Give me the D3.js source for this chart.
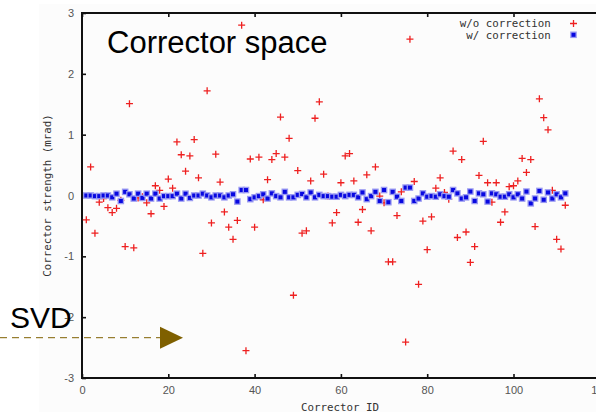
<!DOCTYPE html>
<html lang="en">
<head>
  <meta charset="utf-8">
  <title>Corrector space</title>
  <script type="text/javascript" src="https://d3js.org/d3.v7.min.js"></script>
  <style>
    body { margin: 0; background: #fff; }
    svg { display: block; }
  </style>
</head>
<body>
  <div id="my_dataviz"></div>

  <script type="text/javascript">
    // corrector strength (mrad) per corrector ID 1..112
    var withoutCorrection = [
      -0.40, 0.47, -0.62, -0.11, -0.05, -0.20, -0.28, -0.21, -0.08, -0.84,
      1.51, -0.86, -0.04, -0.02, -0.12, -0.30, 0.16, 0.085, -0.18, 0.27,
      0.12, 0.88, 0.67, 0.40, 0.65, 0.92, 0.29, -0.95, 1.72, -0.45,
      0.68, 0.22, -0.27, -0.52, -0.72, -0.41, 2.80, -2.55, 0.60, -0.52,
      0.63, -0.07, 0.26, 0.59, 0.69, 1.29, 0.63, 0.94, -1.64, 0.41,
      -0.62, -0.58, 0.24, 1.27, 1.54, 0.35, -0.01, -0.45, -0.28, 0.21,
      0.65, 0.69, 0.24, -0.44, -0.23, 0.34, -0.58, 0.47, -0.01, -0.12,
      -1.09, -1.09, -0.33, 0.06, -2.41, 2.57, 0.23, -1.46, -0.42, -0.89,
      -0.35, 0.12, 0.29, 0.05, -0.06, 0.73, -0.69, 0.59, -0.60, -1.10,
      -0.84, 0.33, 0.89, 0.21, -0.11, 0.21, -0.44, -0.27, 0.145, 0.16,
      0.24, 0.61, 0.38, 0.59, -0.51, 1.59, 1.28, 1.08, 0.085, -0.72,
      -0.88, -0.16
    ];
    var withCorrection = [
      0.0, 0.0, -0.01, -0.01, 0.0, 0.0, -0.03, 0.03, -0.09, 0.06,
      0.02, -0.05, 0.03, -0.04, 0.03, -0.05, 0.03, -0.05, -0.01, -0.01,
      -0.01, 0.03, -0.05, 0.03, -0.04, 0.0, 0.0, 0.03, 0.0, -0.03,
      0.0, 0.0, -0.03, 0.0, 0.02, -0.10, 0.09, 0.09, -0.06, -0.03,
      -0.01, 0.02, -0.05, 0.035, -0.01, -0.03, 0.06, -0.03, -0.03, 0.01,
      0.025, -0.03, 0.05, -0.03, 0.01, -0.01, -0.01, -0.02, -0.02, 0.01,
      -0.01, 0.01, 0.01, -0.03, 0.05, -0.06, -0.01, 0.06, -0.09, 0.09,
      -0.11, 0.06, -0.02, -0.09, 0.13, 0.13, -0.09, -0.05, 0.035, -0.02,
      -0.01, -0.02, 0.02, -0.01, -0.02, 0.09, 0.035, -0.05, -0.03, 0.065,
      -0.09, 0.035, 0.02, -0.10, 0.035, 0.02, -0.02, -0.02, 0.02, -0.03,
      0.02, -0.05, 0.065, -0.13, -0.05, 0.075, -0.07, 0.05, -0.05, 0.02,
      -0.03, 0.035
    ];
    var xTicks = [0, 20, 40, 60, 80, 100, 120];
    var yTicks = [-3, -2, -1, 0, 1, 2, 3];
    var legendLabels = ["w/o correction", "w/ correction"];

    var width = 596, height = 412;
    var monoFont = "'DejaVu Sans Mono', monospace";
    var tickFont = "'Liberation Sans', Arial, sans-serif";

    var svg = d3.select("#my_dataviz")
      .append("svg")
      .attr("width", width)
      .attr("height", height);

    // faint slide backdrop
    svg.append("rect")
      .attr("x", 39).attr("y", 4)
      .attr("width", width - 39).attr("height", height - 4)
      .attr("fill", "#fcfcfc");

    var x = d3.scaleLinear().domain([0, 120]).range([82, 599.8]);
    var y = d3.scaleLinear().domain([-3, 3]).range([378, 13]);

    // axes (gnuplot style: ticks point inward)
    var fmt = function (d) { return String(d); };
    var gLeft = svg.append("g")
      .attr("transform", "translate(" + x(0) + ",0)")
      .call(d3.axisLeft(y).tickValues(yTicks).tickSize(-4).tickPadding(8).tickFormat(fmt));
    var gBottom = svg.append("g")
      .attr("transform", "translate(0," + y(-3) + ")")
      .call(d3.axisBottom(x).tickValues(xTicks).tickSize(-4).tickPadding(8).tickFormat(fmt));
    var gTop = svg.append("g")
      .attr("transform", "translate(0," + y(3) + ")")
      .call(d3.axisTop(x).tickValues(xTicks).tickSize(-4).tickFormat(""));

    [gLeft, gBottom, gTop].forEach(function (g) {
      g.select(".domain").remove();
      g.selectAll(".tick line").attr("stroke", "#111").attr("stroke-width", 1.6);
      g.selectAll(".tick text")
        .attr("fill", "#555")
        .style("font-family", tickFont)
        .style("font-size", "11px");
    });

    // plot border
    svg.append("rect")
      .attr("x", x(0)).attr("y", y(3))
      .attr("width", x(120) - x(0)).attr("height", y(-3) - y(3))
      .attr("fill", "none")
      .attr("stroke", "#111")
      .attr("stroke-width", 2);

    // w/o correction: red plus markers
    svg.append("g").selectAll("path")
      .data(withoutCorrection)
      .enter()
      .append("path")
      .attr("d", function (d, i) {
        var cx = x(i + 1), cy = y(d);
        return "M" + (cx - 3.5) + "," + cy + "H" + (cx + 3.5) + "M" + cx + "," + (cy - 3.5) + "V" + (cy + 3.5);
      })
      .attr("stroke", "#ee2020")
      .attr("stroke-width", 1.3)
      .attr("fill", "none");

    // w/ correction: blue boxes drawn on top
    var blue = svg.append("g").selectAll("g")
      .data(withCorrection)
      .enter()
      .append("g")
      .attr("transform", function (d, i) {
        return "translate(" + x(i + 1) + "," + y(d) + ")";
      });
    blue.append("rect")
      .attr("x", -3.3).attr("y", -3.3).attr("width", 6.6).attr("height", 6.6)
      .attr("fill", "#9a9af2");
    blue.append("rect")
      .attr("x", -2).attr("y", -2).attr("width", 4).attr("height", 4)
      .attr("fill", "#0808e0");

    // legend
    var legend = svg.append("g");
    legend.selectAll("text")
      .data(legendLabels)
      .enter()
      .append("text")
      .attr("x", 550.7)
      .attr("y", function (d, i) { return 23.5 + i * 11.3; })
      .attr("dy", "0.35em")
      .attr("text-anchor", "end")
      .attr("fill", "#333")
      .style("font-family", monoFont)
      .style("font-size", "10.8px")
      .text(function (d) { return d; });
    legend.append("path")
      .attr("d", "M570,23.5H577M573.5,20V27")
      .attr("stroke", "#ee2020").attr("stroke-width", 1.3);
    legend.append("rect")
      .attr("x", 570.2).attr("y", 31.5).attr("width", 6.6).attr("height", 6.6)
      .attr("fill", "#9a9af2");
    legend.append("rect")
      .attr("x", 571.5).attr("y", 32.8).attr("width", 4).attr("height", 4)
      .attr("fill", "#0808e0");

    // axis titles
    svg.append("text")
      .attr("x", 340).attr("y", 407)
      .attr("dy", "0.35em")
      .attr("text-anchor", "middle")
      .attr("fill", "#333")
      .style("font-family", monoFont)
      .style("font-size", "10.8px")
      .text("Corrector ID");
    svg.append("text")
      .attr("transform", "translate(47," + y(0) + ") rotate(-90)")
      .attr("dy", "0.35em")
      .attr("text-anchor", "middle")
      .attr("fill", "#333")
      .style("font-family", monoFont)
      .style("font-size", "10.8px")
      .text("Corrector strength (mrad)");

    // slide annotations
    svg.append("text")
      .attr("x", 107).attr("y", 52.5)
      .attr("fill", "#000")
      .style("font-family", "'Liberation Sans', Arial, sans-serif")
      .style("font-size", "31px")
      .text("Corrector space");
    svg.append("text")
      .attr("x", 10).attr("y", 328)
      .attr("fill", "#000")
      .style("font-family", "'Liberation Sans', Arial, sans-serif")
      .style("font-size", "30px")
      .text("SVD");
    svg.append("line")
      .attr("x1", 0).attr("x2", 160)
      .attr("y1", 337.7).attr("y2", 337.7)
      .attr("stroke", "#7f6000")
      .attr("stroke-width", 1)
      .attr("stroke-dasharray", "7,5");
    svg.append("path")
      .attr("d", "M160,326.7L183,337.7L160,348.7Z")
      .attr("fill", "#7f6000");
  </script>
</body>
</html>
